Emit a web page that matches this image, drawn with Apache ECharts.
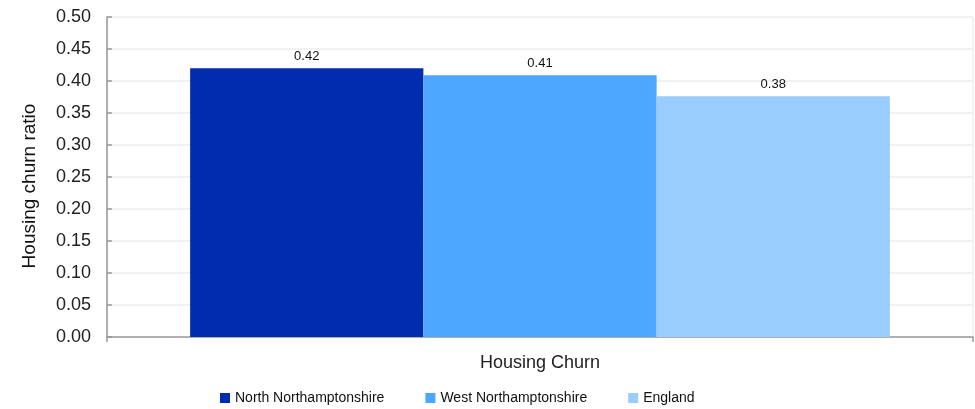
<!DOCTYPE html>
<html>
<head>
<meta charset="utf-8">
<title>Housing Churn</title>
<script src="https://cdn.jsdelivr.net/npm/echarts@6/dist/echarts.min.js"></script>
<style>
  html, body { margin: 0; padding: 0; background: #fff; }
  #chart { width: 975px; height: 409px; }
</style>
</head>
<body>
<div id="chart"></div>
<script>
const categories = ['Housing Churn'];
const seriesNames = ['North Northamptonshire', 'West Northamptonshire', 'England'];
const seriesValues = [[0.42], [0.409], [0.376]];
const seriesColors = ['#002DB0', '#4DA6FF', '#99CCFF'];

const font = '"Liberation Sans", Arial, sans-serif';

const chart = echarts.init(document.getElementById('chart'));

const option = {
  backgroundColor: '#fff',
  animation: false,
  textStyle: { fontFamily: font },
  grid: { left: 107, right: 2, top: 17, bottom: 72 },
  legend: {
    left: 215,
    top: 386,
    itemWidth: 10,
    itemHeight: 10,
    itemGap: 41,
    icon: 'rect',
    textStyle: {
      fontSize: 14,
      color: '#111'
    },
    data: seriesNames
  },
  xAxis: {
    type: 'category',
    data: categories,
    axisLine: { lineStyle: { color: '#999', width: 1.5 } },
    axisTick: { show: true, length: 5, lineStyle: { color: '#999', width: 1.5 } },
    axisLabel: { color: '#222', fontSize: 18, margin: 17 },
    splitLine: { show: true, lineStyle: { color: '#eeeeee', width: 1.5 } }
  },
  yAxis: {
    type: 'value',
    min: 0,
    max: 0.5,
    interval: 0.05,
    name: 'Housing churn ratio',
    nameLocation: 'middle',
    nameGap: 68,
    nameTextStyle: { color: '#111', fontSize: 19, padding: [0, 18, 0, 0] },
    axisLine: { show: true, lineStyle: { color: '#999', width: 1.5 } },
    axisTick: { show: true, inside: true, length: 5, lineStyle: { color: '#999', width: 1.5 } },
    axisLabel: {
      color: '#222',
      fontSize: 18,
      margin: 16,
      formatter: v => v.toFixed(2)
    },
    splitLine: { lineStyle: { color: '#eeeeee', width: 1.5 } }
  },
  series: seriesNames.map((name, i) => ({
    name: name,
    type: 'bar',
    data: seriesValues[i],
    barGap: '0%',
    barCategoryGap: '19.2%',
    itemStyle: { color: seriesColors[i] },
    label: {
      show: true,
      position: 'top',
      distance: 5,
      color: '#111',
      fontSize: 13,
      formatter: p => p.value.toFixed(2)
    }
  }))
};

chart.setOption(option);
</script>
</body>
</html>
